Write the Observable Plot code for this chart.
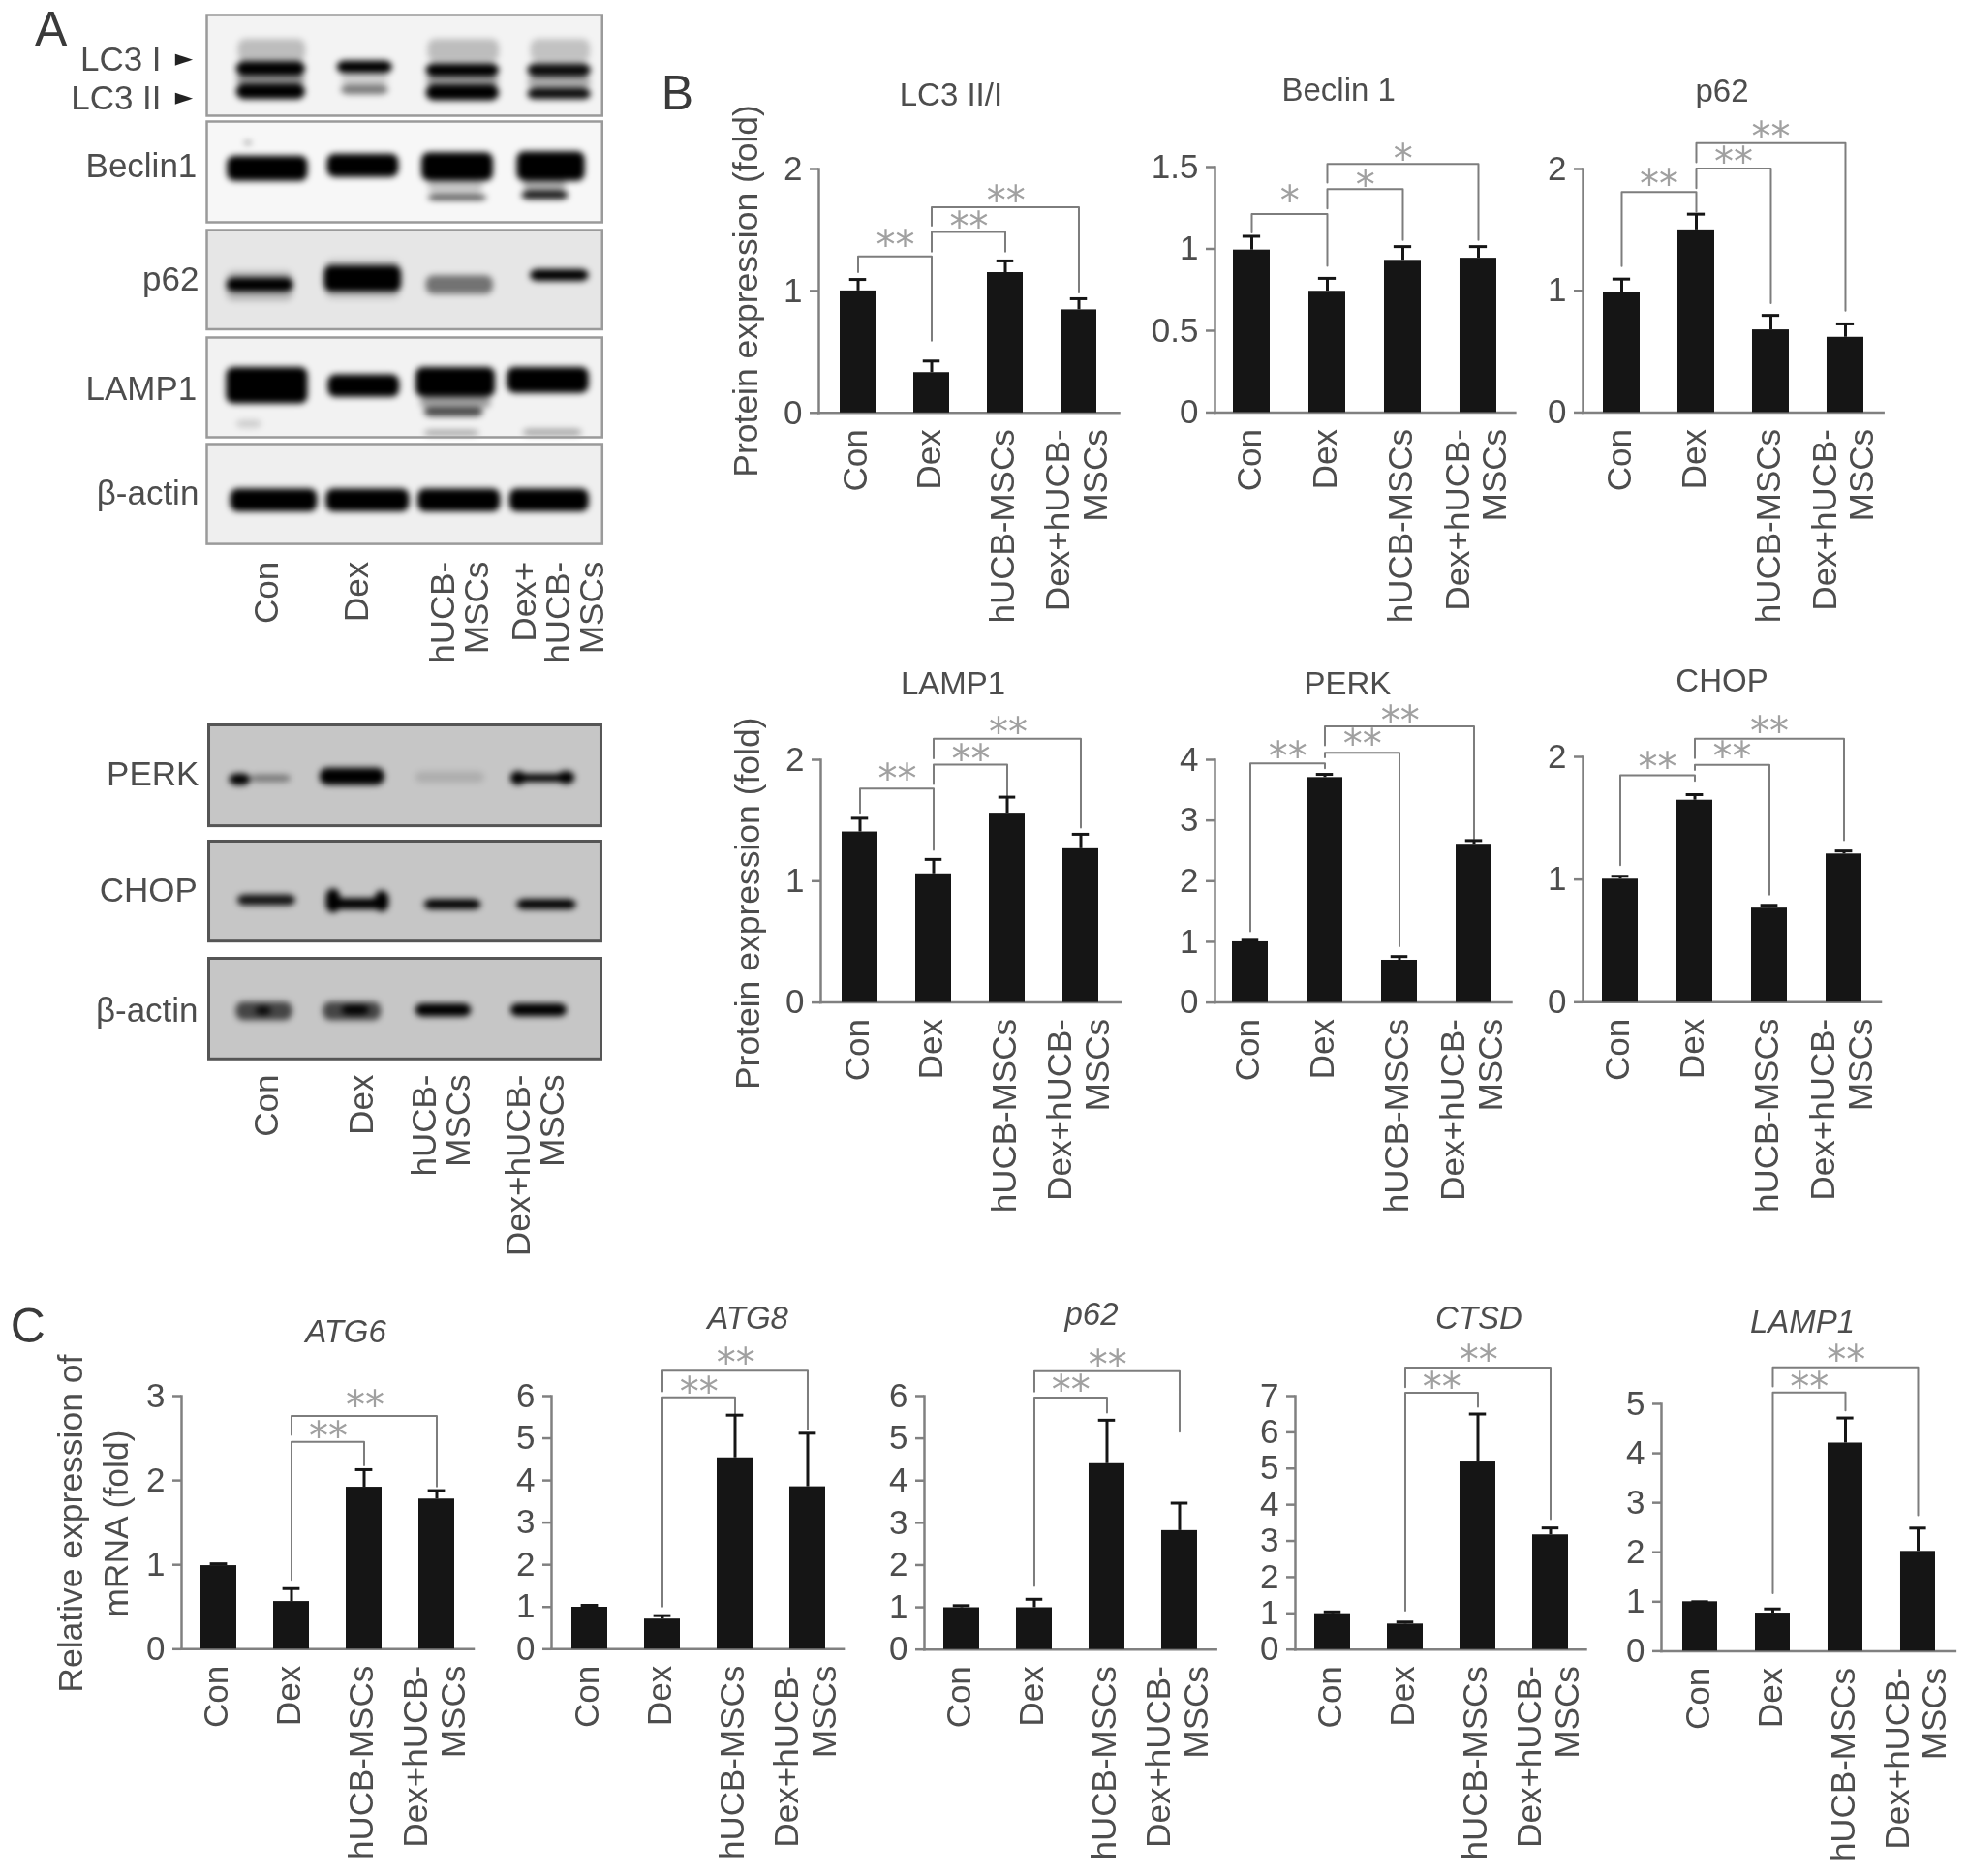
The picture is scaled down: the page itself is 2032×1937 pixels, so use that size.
<!DOCTYPE html>
<html>
<head>
<meta charset="utf-8">
<script src="https://cdn.jsdelivr.net/npm/d3@7"></script>
<script src="https://cdn.jsdelivr.net/npm/@observablehq/plot@0.6"></script>
<style>
html,body{margin:0;padding:0;background:#fff}
#page{position:relative;width:2032px;height:1937px;overflow:hidden;background:#fff;font-family:"Liberation Sans",sans-serif;color:#4d4d4d;filter:blur(0.5px)}
#page svg{position:absolute}
.letter{position:absolute;font-size:50px;line-height:50px;transform:translate(-50%,-50%);color:#3a3a3a}
</style>
</head>
<body>
<div id="page"></div>
<script>
// ---------- categories ----------
const groups = ["Con", "Dex", "hUCB-MSCs", "Dex+hUCB-\nMSCs"];
const [CON, DEX, HUC, DH] = groups;

// ---------- panel B: western blot densitometry ----------
const lc3Values = [1.0, 0.33, 1.15, 0.845];
const lc3Errors = [1.094, 0.425, 1.246, 0.936];
const lc3Ticks = [0, 1, 2];
const lc3Brackets = [[CON, DEX, 1.155, 0.593, 1.283, 1.444, "**"], [DEX, HUC, 1.322, 1.322, 1.483, 1.596, "**"], [DEX, DH, 1.535, 0.988, 1.687, 1.81, "**"]];

const beclinValues = [0.993, 0.741, 0.93, 0.943];
const beclinErrors = [1.077, 0.82, 1.014, 1.014];
const beclinTicks = [0, 0.5, 1, 1.5];
const beclinBrackets = [[CON, DEX, 1.1, 0.896, 1.213, 1.35, "*"], [DEX, HUC, 1.247, 1.054, 1.365, 1.444, "*"], [DEX, DH, 1.406, 1.054, 1.519, 1.603, "*"]];

const p62ProtValues = [0.989, 1.5, 0.679, 0.618];
const p62ProtErrors = [1.096, 1.629, 0.798, 0.728];
const p62ProtTicks = [0, 1, 2];
const p62ProtBrackets = [[CON, DEX, 1.202, 1.65, 1.811, 1.948, "**"], [DEX, HUC, 1.842, 0.898, 2.003, 2.131, "**"], [DEX, DH, 2.055, 0.837, 2.213, 2.338, "**"]];

const lampProtValues = [1.405, 1.06, 1.56, 1.267];
const lampProtErrors = [1.518, 1.179, 1.692, 1.386];
const lampProtTicks = [0, 1, 2];
const lampProtBrackets = [[CON, DEX, 1.563, 1.258, 1.762, 1.915, "**"], [DEX, HUC, 1.8, 1.7, 1.96, 2.076, "**"], [DEX, DH, 2.012, 1.441, 2.174, 2.296, "**"]];

const perkValues = [1.0, 3.707, 0.696, 2.608];
const perkErrors = [1.026, 3.76, 0.757, 2.669];
const perkTicks = [0, 1, 2, 3, 4];
const perkBrackets = [[CON, DEX, 1.173, 3.86, 3.939, 4.195, "**"], [DEX, HUC, 4.04, 0.928, 4.116, 4.397, "**"], [DEX, DH, 4.238, 2.7, 4.55, 4.794, "**"]];

const chopValues = [1.003, 1.647, 0.767, 1.208];
const chopErrors = [1.027, 1.692, 0.79, 1.233];
const chopTicks = [0, 1, 2];
const chopBrackets = [[CON, DEX, 1.118, 1.804, 1.849, 1.985, "**"], [DEX, HUC, 1.894, 0.876, 1.934, 2.076, "**"], [DEX, DH, 1.991, 1.32, 2.148, 2.278, "**"]];

// ---------- panel C: mRNA ----------
const atg6Values = [0.99, 0.565, 1.92, 1.78];
const atg6Errors = [1.012, 0.718, 2.128, 1.88];
const atg6Ticks = [0, 1, 2, 3];
const atg6Brackets = [[DEX, HUC, 0.822, 2.178, 2.458, 2.63, "**"], [DEX, DH, 2.54, 1.93, 2.765, 2.99, "**"]];

const atg8Values = [0.994, 0.714, 4.536, 3.85];
const atg8Errors = [1.04, 0.795, 5.548, 5.12];
const atg8Ticks = [0, 1, 2, 3, 4, 5, 6];
const atg8Brackets = [[DEX, HUC, 1.01, 5.575, 5.97, 6.3, "**"], [DEX, DH, 6.117, 5.21, 6.6, 7.0, "**"]];

const p62MrnaValues = [0.99, 0.99, 4.4, 2.816];
const p62MrnaErrors = [1.04, 1.19, 5.43, 3.466];
const p62MrnaTicks = [0, 1, 2, 3, 4, 5, 6];
const p62MrnaBrackets = [[DEX, HUC, 1.507, 5.61, 5.966, 6.35, "**"], [DEX, DH, 6.11, 5.16, 6.59, 6.95, "**"]];

const ctsdValues = [0.99, 0.705, 5.18, 3.168];
const ctsdErrors = [1.04, 0.76, 6.505, 3.358];
const ctsdTicks = [0, 1, 2, 3, 4, 5, 6, 7];
const ctsdBrackets = [[DEX, HUC, 1.074, 6.705, 7.095, 7.49, "**"], [DEX, DH, 7.25, 3.6, 7.79, 8.23, "**"]];

const lampMrnaValues = [1.0, 0.77, 4.207, 2.018];
const lampMrnaErrors = [1.0, 0.855, 4.715, 2.488];
const lampMrnaTicks = [0, 1, 2, 3, 4, 5];
const lampMrnaBrackets = [[DEX, HUC, 1.17, 4.87, 5.23, 5.51, "**"], [DEX, DH, 5.35, 2.75, 5.74, 6.06, "**"]];

// ---------- panel A: blots, bands as [laneStart, laneEnd, top, bottom, ink] in % of the membrane ----------
const blotLC3 = [[8,25,24,47,.22],[7.5,25,46.5,60.7,1],[7.5,25,60,69,.4],[7.5,25,68.8,83.8,1],[33,47,45.7,58,1],[34,46,58,70,.15],[34,46,70,79,.5],[56,74,24,47,.22],[55.5,74,48.6,61.5,1],[55.5,74,61,70,.35],[55.5,74,69.6,85,1],[82,97,24,47,.2],[81.2,97.2,48.6,61.5,.95],[81.2,97.2,61,73,.3],[81.2,97.2,73,84,.95]];
const blotBeclin = [[5.2,25.6,34.4,59.5,1],[9.5,11.5,20,23,.5],[30.5,48.6,32.4,55.5,1],[54.4,72.5,31,59.5,1],[56,70.9,73,78.5,.7],[56,70,58,72,.2],[78.5,95.7,30,59.5,1],[79.7,91.5,69,77.7,.9],[80,91,58,69,.3]];
const blotP62 = [[5,22,42,72,.2],[5,22,48.4,62.7,1],[29.7,49.3,36,62.7,1],[30,49,30,70,.15],[55.5,72.5,46,65,.5],[81.8,96.7,40,51.6,1]];
const blotLamp = [[5,25.6,30,66.5,1],[30.7,48.8,37.5,60,1],[52.9,73,30,60,1],[54,72,60,71,.35],[55,70,70.6,79.6,.7],[76,96.7,30,56,1],[80,95,92,99,.3],[55,69,93,99,.3],[7.5,14,83,91,.15]];
const blotActinA = [[6,28,45,68,1],[30.2,51.3,45,68,1],[53.4,74.3,45,68,1],[76.6,96.7,45,68,1]];
const blotPerk = [[5.3,10.7,48.5,60.3,1],[10.7,21,49.6,57,.4],[28.4,44.9,43,60,1],[52.7,70.4,46.7,57.7,.12],[77,93.4,49,57,1],[77,81,46,60,1],[89,93.4,46,59,1]];
const blotChop = [[7.4,22.2,53.7,64.8,.9],[30,46,57.4,68.5,1],[30,33.6,48,72,1],[42.4,46,50,71,1],[55,69.5,58.5,68.5,1],[78.6,93.8,58.5,68.5,1]];
const blotActinB = [[7,21.4,43.5,62,.65],[12,16,48,57,.9],[29.2,44,43.5,62,.65],[34,41,47,56.5,1],[52.7,67,45.4,58.3,1],[77,91.4,45.4,58,1]];

const laneNamesTop = [[15.3, "Con"], [38, "Dex"], [64, "hUCB-\nMSCs"], [89, "Dex+\nhUCB-\nMSCs"]];
const laneNamesBottom = [[14.8, "Con"], [39, "Dex"], [59.4, "hUCB-\nMSCs"], [83.3, "Dex+hUCB-\nMSCs"]];

// ---------- layout and style ----------
const FONT = "Liberation Sans";
const TEXT = "#4d4d4d", AXIS = "#808080", BAR = "#151515";
const page = document.getElementById("page");

function barPanel(p) {
  const ML = 150, MT = 120, MB = p.mb ?? 260;
  const frameW = p.xEnd - p.axisX, frameH = p.yBase - p.yTop;
  const data = groups.map((g, i) => ({g, v: p.values[i], e: p.errors[i]}));
  const step = (p.c3 - p.c0) / 3;
  const marks = [
    Plot.frame({anchor: "bottom", stroke: AXIS, strokeWidth: 2.5}),
    Plot.frame({anchor: "left", stroke: AXIS, strokeWidth: 2.5}),
    Plot.axisY({ticks: p.ticks, tickFormat: d => String(d), tickSize: 9, tickPadding: 8, label: null, stroke: AXIS, strokeWidth: 2.5, fill: TEXT, fontSize: 35}),
    Plot.text(groups, {x: d => d, y: () => 0, text: d => d, rotate: -90, textAnchor: "end", lineAnchor: "middle", lineHeight: 1.1, dx: -3, dy: 17, fontSize: 35, fill: TEXT}),
    Plot.text([p.title], {frameAnchor: "top", lineAnchor: "middle", text: d => d, dx: p.titleX - (p.axisX + p.xEnd) / 2, dy: p.titleY - p.yTop, fontSize: 33, fontStyle: p.italic ? "italic" : "normal", fill: TEXT})
  ];
  if (p.ylabel) marks.push(Plot.text([p.ylabel], {frameAnchor: "left", text: d => d, rotate: -90, textAnchor: "middle", lineAnchor: "middle", lineHeight: 1.31, dx: p.ylabelDx, dy: p.ylabelDy, fontSize: 35.5, fill: TEXT}));
  for (const [from, to, fromEnd, toEnd, top, labelY, stars] of p.brackets) {
    marks.push(Plot.line([{g: from, v: fromEnd}, {g: from, v: top}, {g: to, v: top}, {g: to, v: toEnd}], {x: "g", y: "v", stroke: "#7d7d7d", strokeWidth: 2}));
    marks.push(Plot.text([stars], {x: () => from, y: () => labelY, text: d => d, dx: (groups.indexOf(to) - groups.indexOf(from)) * step / 2, dy: 10, fontFamily: "DejaVu Sans", fontSize: 40, fill: "#a0a0a0"}));
  }
  marks.push(
    Plot.ruleX(data, {x: "g", y1: "v", y2: "e", stroke: BAR, strokeWidth: 3}),
    Plot.tickY(data, {x: "g", y: "e", stroke: BAR, strokeWidth: 3, insetLeft: p.bw * 0.26, insetRight: p.bw * 0.26}),
    Plot.barY(data, {x: "g", y: "v", fill: BAR})
  );
  const svg = Plot.plot({
    width: ML + frameW, height: MT + frameH + MB,
    marginLeft: ML, marginRight: 0, marginTop: MT, marginBottom: MB,
    style: {fontFamily: FONT, fontSize: "35px", color: TEXT, background: "transparent", overflow: "visible"},
    x: {type: "band", domain: groups, axis: null, paddingInner: 1 - p.bw / step, paddingOuter: 0,
        range: [ML + p.c0 - p.bw / 2 - p.axisX, ML + p.c3 + p.bw / 2 - p.axisX]},
    y: {domain: [0, p.ticks[p.ticks.length - 1]]},
    marks
  });
  svg.style.left = (p.axisX - ML) + "px";
  svg.style.top = (p.yTop - MT) + "px";
  page.appendChild(svg);
}

function blot(b) {
  const ML = 215, MR = 10, MT = 2, MB = b.mb ?? 4;
  const w = b.right - b.left, h = b.bottom - b.top;
  const bands = b.bands.map(([x1, x2, y1, y2, ink]) => ({x1, x2, y1, y2, ink}));
  const marks = [
    Plot.frame({fill: b.bg}),
    Plot.rect(bands, {x1: "x1", x2: "x2", y1: "y1", y2: "y2", fill: "#000", fillOpacity: "ink", rx: 8, imageFilter: "blur(3px)"}),
    Plot.frame({stroke: b.edge, strokeWidth: b.edgeWidth})
  ];
  for (const [y, label] of b.labels) marks.push(Plot.text([label], {x: () => b.labelX, y: () => y, text: d => d, textAnchor: "end", fontSize: 35, fill: TEXT}));
  if (b.arrows) for (const y of b.arrows) marks.push(Plot.text(["\u25BA"], {x: () => -3.5, y: () => y, text: d => d, textAnchor: "end", fontFamily: "DejaVu Sans", fontSize: 24, fill: "#222"}));
  if (b.lanes) marks.push(Plot.text(b.lanes, {x: d => d[0], y: () => b.laneY, text: d => d[1], rotate: -90, textAnchor: "end", lineAnchor: "middle", lineHeight: 1, fontSize: 35, fill: TEXT}));
  const svg = Plot.plot({
    width: ML + w + MR, height: MT + h + MB,
    marginLeft: ML, marginRight: MR, marginTop: MT, marginBottom: MB,
    style: {fontFamily: FONT, fontSize: "35px", color: TEXT, background: "transparent", overflow: "visible"},
    x: {domain: [0, 100], axis: null},
    y: {domain: [100, 0], axis: null},
    opacity: {domain: [0, 1], range: [0, 1]},
    marks
  });
  svg.style.left = (b.left - ML) + "px";
  svg.style.top = (b.top - MT) + "px";
  page.appendChild(svg);
}

// ---------- blots ----------
const lightEdge = {edge: "#9a9a9a", edgeWidth: 2.5, left: 213.4, right: 621.7};
blot({...lightEdge, top: 14.7, bottom: 118.7, bg: "#f3f3f3", bands: blotLC3, labelX: -11.5, labels: [[44.5, "LC3 I"], [83.4, "LC3 II"]], arrows: [43, 82]});
blot({...lightEdge, top: 125.4, bottom: 229.4, bg: "#f7f7f7", bands: blotBeclin, labelX: -2.5, labels: [[45, "Beclin1"]]});
blot({...lightEdge, top: 236.5, bottom: 339, bg: "#e6e6e6", bands: blotP62, labelX: -2, labels: [[50, "p62"]]});
blot({...lightEdge, top: 348, bottom: 451, bg: "#f2f2f2", bands: blotLamp, labelX: -2.5, labels: [[52, "LAMP1"]]});
blot({...lightEdge, top: 457.5, bottom: 560.6, bg: "#efefef", bands: blotActinA, labelX: -2, labels: [[50, "\u03B2-actin"]], mb: 160, lanes: laneNamesTop, laneY: 117.7});
const darkEdge = {edge: "#555", edgeWidth: 3, left: 215, right: 620};
blot({...darkEdge, top: 748.4, bottom: 852.5, bg: "#c6c6c6", bands: blotPerk, labelX: -2.5, labels: [[49, "PERK"]]});
blot({...darkEdge, top: 867.8, bottom: 971, bg: "#c6c6c6", bands: blotChop, labelX: -2.9, labels: [[50, "CHOP"]]});
blot({...darkEdge, top: 989, bottom: 1092.8, bg: "#c6c6c6", bands: blotActinB, labelX: -2.7, labels: [[52, "\u03B2-actin"]], mb: 230, lanes: laneNamesBottom, laneY: 115.6});

// ---------- bar panels ----------
const protein = "Protein expression (fold)";
const mrna = "Relative expression of\nmRNA (fold)";
barPanel({title: "LC3 II/I", values: lc3Values, errors: lc3Errors, ticks: lc3Ticks, brackets: lc3Brackets, axisX: 845, xEnd: 1155, yBase: 425.5, yTop: 173.7, c0: 884.5, c3: 1115, bw: 37.5, titleX: 981.4, titleY: 98, ylabel: protein, ylabelDx: -78, ylabelDy: 0});
barPanel({title: "Beclin 1", values: beclinValues, errors: beclinErrors, ticks: beclinTicks, brackets: beclinBrackets, axisX: 1253.8, xEnd: 1563.7, yBase: 425.5, yTop: 172, c0: 1290.8, c3: 1525.8, bw: 38, titleX: 1381.5, titleY: 93});
barPanel({title: "p62", values: p62ProtValues, errors: p62ProtErrors, ticks: p62ProtTicks, brackets: p62ProtBrackets, axisX: 1633.5, xEnd: 1943.7, yBase: 425.5, yTop: 174, c0: 1673, c3: 1904, bw: 38, titleX: 1777, titleY: 94});
barPanel({title: "LAMP1", values: lampProtValues, errors: lampProtErrors, ticks: lampProtTicks, brackets: lampProtBrackets, axisX: 847, xEnd: 1157, yBase: 1034.3, yTop: 783.7, c0: 886, c3: 1116.7, bw: 37.5, titleX: 983.6, titleY: 706, ylabel: protein, ylabelDx: -78, ylabelDy: 23});
barPanel({title: "PERK", values: perkValues, errors: perkErrors, ticks: perkTicks, brackets: perkBrackets, axisX: 1253.8, xEnd: 1559.8, yBase: 1034.3, yTop: 783.7, c0: 1289.8, c3: 1522.7, bw: 37.5, titleX: 1390.7, titleY: 706});
barPanel({title: "CHOP", values: chopValues, errors: chopErrors, ticks: chopTicks, brackets: chopBrackets, axisX: 1633.5, xEnd: 1941, yBase: 1034.3, yTop: 781, c0: 1671.9, c3: 1903, bw: 37, titleX: 1777, titleY: 702.5});
barPanel({title: "ATG6", italic: true, mb: 234, values: atg6Values, errors: atg6Errors, ticks: atg6Ticks, brackets: atg6Brackets, axisX: 186.5, xEnd: 488, yBase: 1702.5, yTop: 1441.2, c0: 223.3, c3: 451.2, bw: 37, titleX: 356, titleY: 1375, ylabel: mrna, ylabelDx: -94, ylabelDy: 1});
barPanel({title: "ATG8", italic: true, mb: 234, values: atg8Values, errors: atg8Errors, ticks: atg8Ticks, brackets: atg8Brackets, axisX: 569.4, xEnd: 871, yBase: 1702.5, yTop: 1441.2, c0: 607.9, c3: 835, bw: 37, titleX: 772, titleY: 1361});
barPanel({title: "p62", italic: true, mb: 234, values: p62MrnaValues, errors: p62MrnaErrors, ticks: p62MrnaTicks, brackets: p62MrnaBrackets, axisX: 953.5, xEnd: 1254.7, yBase: 1702.5, yTop: 1440.8, c0: 991, c3: 1218, bw: 37.5, titleX: 1126, titleY: 1357});
barPanel({title: "CTSD", italic: true, mb: 234, values: ctsdValues, errors: ctsdErrors, ticks: ctsdTicks, brackets: ctsdBrackets, axisX: 1337, xEnd: 1637, yBase: 1702.5, yTop: 1440.8, c0: 1374.5, c3: 1601.5, bw: 37.5, titleX: 1526.5, titleY: 1361});
barPanel({title: "LAMP1", italic: true, mb: 232, values: lampMrnaValues, errors: lampMrnaErrors, ticks: lampMrnaTicks, brackets: lampMrnaBrackets, axisX: 1715.4, xEnd: 2018.8, yBase: 1704.4, yTop: 1449, c0: 1754.3, c3: 1981.3, bw: 36, titleX: 1861, titleY: 1365});

// ---------- panel letters ----------
for (const [t, x, y] of [["A", 52.6, 30], ["B", 699.5, 96], ["C", 28.7, 1369]]) {
  const d = document.createElement("div");
  d.className = "letter";
  d.textContent = t;
  d.style.left = x + "px";
  d.style.top = y + "px";
  page.appendChild(d);
}
</script>
</body>
</html>
